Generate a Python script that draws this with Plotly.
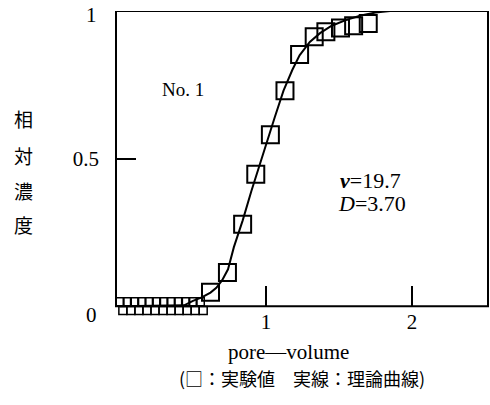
import plotly.graph_objects as go

# Breakthrough data, run No. 1
pv_meas = [0.62, 0.736, 0.84, 0.93, 1.03, 1.13, 1.23, 1.33, 1.41, 1.51, 1.60, 1.70]
c_meas = [0.047, 0.114, 0.278, 0.447, 0.581, 0.73, 0.853, 0.913, 0.93, 0.942, 0.95, 0.958]

# early effluent samples (two overlapping rows along the baseline)
pv_base_a = [0.0, 0.05, 0.10, 0.15, 0.20, 0.25, 0.30, 0.35, 0.40, 0.45, 0.50, 0.55]
c_base_a = [0.015] * 12
pv_base_b = [0.02, 0.075, 0.13, 0.185, 0.24, 0.295, 0.35, 0.405, 0.46, 0.515, 0.57]
c_base_b = [-0.015] * 11

# theoretical curve
pv_theory = [0.0, 0.44, 0.50, 0.56, 0.62, 0.66, 0.70, 0.74, 0.78, 0.84, 0.90, 0.95,
             1.00, 1.06, 1.12, 1.18, 1.23, 1.30, 1.37, 1.45, 1.55, 1.65, 1.75, 1.85]
c_theory = [0.0, 0.003, 0.018, 0.030, 0.046, 0.062, 0.088, 0.125, 0.20, 0.29, 0.39, 0.47,
            0.55, 0.64, 0.73, 0.80, 0.85, 0.895, 0.925, 0.95, 0.97, 0.985, 0.995, 1.0]

x_ticks = [1, 2]
x_ticktext = ["1", "2"]
y_ticks = [0.5]
y_ticktext = ["0.5"]

X_RANGE = [-0.027, 2.52]
Y_RANGE = [-0.04, 1.0]

serif = "Liberation Serif"
cjk = "Noto Sans CJK JP"

# canvas geometry (px)
W, H = 490, 405
M_L, M_R, M_T, M_B = 116, 2, 11, 87
PW, PH = W - M_L - M_R, H - M_T - M_B


def px_x(p):
    return (p - M_L) / PW


def px_y(p):
    return (M_T + PH - p) / PH


def data_y(c):
    return (c - Y_RANGE[0]) / (Y_RANGE[1] - Y_RANGE[0])


sq = dict(symbol="square-open", color="black")

fig = go.Figure()
fig.add_trace(go.Scatter(x=pv_theory, y=c_theory, mode="lines",
                         line=dict(color="black", width=2), cliponaxis=False,
                         showlegend=False))
fig.add_trace(go.Scatter(x=pv_base_a, y=c_base_a, mode="markers",
                         marker=dict(size=8, line=dict(width=1.5, color="black"), **sq),
                         cliponaxis=False, showlegend=False))
fig.add_trace(go.Scatter(x=pv_base_b, y=c_base_b, mode="markers",
                         marker=dict(size=8, line=dict(width=1.5, color="black"), **sq),
                         cliponaxis=False, showlegend=False))
fig.add_trace(go.Scatter(x=pv_meas, y=c_meas, mode="markers",
                         marker=dict(size=17, line=dict(width=2, color="black"), **sq),
                         cliponaxis=False, showlegend=False))

# frame from C = 0 to C = 1
fig.add_shape(type="rect", xref="paper", yref="y", x0=0, x1=1, y0=0, y1=1,
              line=dict(color="black", width=2), layer="above")


def note(text, x, y, xanchor="center", family=serif, size=19):
    return dict(text=text, x=x, y=y, xref="paper", yref="paper",
                xanchor=xanchor, yanchor="middle", showarrow=False,
                font=dict(family=family, size=size, color="black"))


ann = [
    note("1", px_x(99), px_y(15), "right", size=21),
    note("0", px_x(99), px_y(315), "right", size=21),
    note("pore—volume", px_x(288), px_y(352), size=21),
    note("(□：実験値　実線：理論曲線)", px_x(302), px_y(378), family=cjk, size=18),
    note("No. 1", px_x(183), px_y(89), size=19),
    note("<b><i>ν</i></b>=19.7", px_x(338), px_y(180), "left", size=22),
    note("<i>D</i>=3.70", px_x(336), px_y(203), "left", size=22),
]
for ch, yp in zip("相対濃度", [118, 155, 190, 224]):
    ann.append(note(ch, px_x(23), px_y(yp), family=cjk, size=19))

fig.update_layout(
    width=W, height=H,
    margin=dict(l=M_L, r=M_R, t=M_T, b=M_B),
    paper_bgcolor="white", plot_bgcolor="white",
    annotations=ann,
    xaxis=dict(range=X_RANGE, showgrid=False, zeroline=False, showline=False,
               anchor="free", position=data_y(0),
               tickvals=x_ticks, ticktext=x_ticktext, ticks="inside",
               ticklen=20, tickwidth=2, tickcolor="black",
               ticklabelstandoff=1,
               tickfont=dict(family=serif, size=21, color="black")),
    yaxis=dict(range=Y_RANGE, showgrid=False, zeroline=False, showline=False,
               tickvals=y_ticks, ticktext=y_ticktext, ticks="inside",
               ticklen=20, tickwidth=2, tickcolor="black",
               ticklabelstandoff=16,
               tickfont=dict(family=serif, size=21, color="black")),
)

fig.write_html("out.html")
